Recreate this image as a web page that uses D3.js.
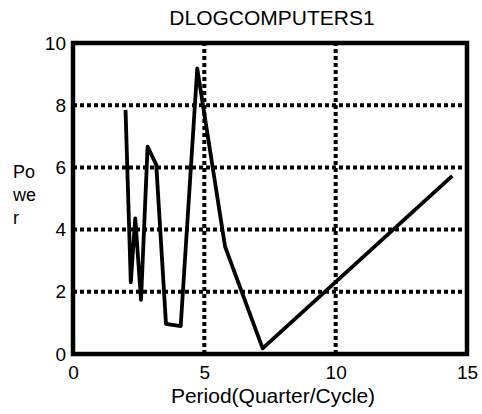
<!DOCTYPE html>
<html>
<head>
<meta charset="utf-8">
<script src="https://cdn.jsdelivr.net/npm/d3@7"></script>
<style>
  html, body { margin: 0; padding: 0; background: #fff; }
  svg { display: block; }
  text { font-family: "Liberation Sans", Arial, sans-serif; fill: #000; }
</style>
</head>
<body>
<svg id="chart" width="482" height="414"></svg>
<script>
const title = "DLOGCOMPUTERS1";
const xLabel = "Period(Quarter/Cycle)";
const yLabelLines = ["Po", "we", "r"];
const periods = [2.0, 2.2, 2.37, 2.59, 2.84, 3.17, 3.54, 4.1, 4.73, 5.79, 7.22, 14.44];
const power   = [7.85, 2.3, 4.36, 1.74, 6.67, 6.08, 0.97, 0.9, 9.18, 3.45, 0.18, 5.73];
const xTicks = [0, 5, 10, 15];
const yTicks = [0, 2, 4, 6, 8, 10];
const xGrid = [5, 10];
const yGrid = [2, 4, 6, 8];

const svg = d3.select("#chart");
const L = 73, R = 467, T = 43, B = 354;
const x = d3.scaleLinear().domain([0, 15]).range([L, R]);
const y = d3.scaleLinear().domain([0, 10]).range([B, T]);

// grid
svg.append("g").selectAll("line").data(yGrid).join("line")
  .attr("x1", L).attr("x2", R)
  .attr("y1", d => y(d)).attr("y2", d => y(d))
  .attr("stroke", "#000").attr("stroke-width", 4).attr("stroke-dasharray", "4,3");
svg.append("g").selectAll("line").data(xGrid).join("line")
  .attr("y1", B).attr("y2", T)
  .attr("x1", d => x(d)).attr("x2", d => x(d))
  .attr("stroke", "#000").attr("stroke-width", 4).attr("stroke-dasharray", "4,3");

// data line
const line = d3.line().x((d, i) => x(periods[i])).y(d => y(d));
svg.append("path").datum(power)
  .attr("d", line)
  .attr("fill", "none").attr("stroke", "#000").attr("stroke-width", 3.8)
  .attr("stroke-linejoin", "round");

// frame
svg.append("rect").attr("x", L).attr("y", T).attr("width", R - L).attr("height", B - T)
  .attr("fill", "none").attr("stroke", "#000").attr("stroke-width", 4.5);

// tick labels via axes
const xAxis = d3.axisBottom(x).tickValues(xTicks).tickSize(0).tickPadding(10).tickFormat(d3.format("d"));
const gx = svg.append("g").attr("transform", `translate(0,${B + 2})`).call(xAxis);
gx.select(".domain").remove();
gx.selectAll("text").style("font-size", "19px").style("font-family", "Liberation Sans, Arial, sans-serif");

const yAxis = d3.axisLeft(y).tickValues(yTicks).tickSize(0).tickPadding(5).tickFormat(d3.format("d"));
const gy = svg.append("g").attr("transform", `translate(${L - 2},0)`).call(yAxis);
gy.select(".domain").remove();
gy.selectAll("text").style("font-size", "19px").style("font-family", "Liberation Sans, Arial, sans-serif");

// title
svg.append("text").attr("x", 272).attr("y", 25)
  .attr("text-anchor", "middle").style("font-size", "21px").text(title);

// x label
svg.append("text").attr("x", 273).attr("y", 403)
  .attr("text-anchor", "middle").style("font-size", "21px").text(xLabel);

// y label
svg.append("g").selectAll("text").data(yLabelLines).join("text")
  .attr("x", 13).attr("y", (d, i) => 178 + i * 23)
  .style("font-size", "18px").text(d => d);
</script>
</body>
</html>
